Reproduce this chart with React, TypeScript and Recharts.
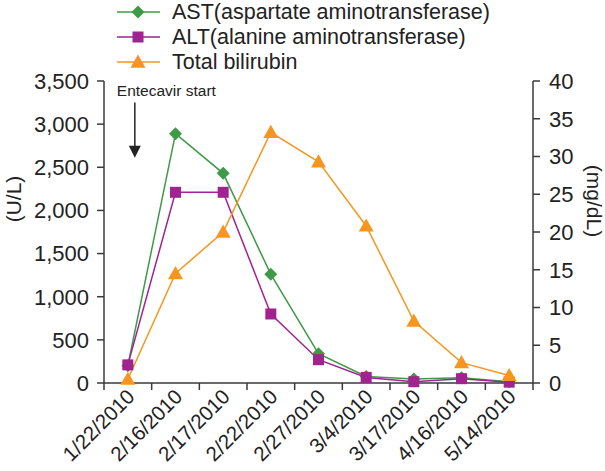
import React from 'react';
import { LineChart, Line, XAxis, YAxis, ReferenceLine } from 'recharts';

const dates = ['1/22/2010', '2/16/2010', '2/17/2010', '2/22/2010', '2/27/2010', '3/4/2010', '3/17/2010', '4/16/2010', '5/14/2010'];
const astValues = [200, 2890, 2430, 1260, 340, 75, 45, 60, 15];
const altValues = [210, 2210, 2210, 800, 270, 65, 15, 50, 10];
const bilirubinValues = [0.5, 14.5, 20.0, 33.2, 29.3, 20.8, 8.2, 2.7, 1.0];
const leftTicks = [0, 500, 1000, 1500, 2000, 2500, 3000, 3500];
const rightTicks = [0, 5, 10, 15, 20, 25, 30, 35, 40];

const FONT = '"Liberation Sans", Arial, sans-serif';
const AXIS = '#3a3a3a';
const GREEN = '#3f9a47';
const PURPLE = '#a0238f';
const ORANGE = '#f7961f';

const W = 605;
const H = 471;
const PLOT_LEFT = 104;
const PLOT_RIGHT = 533;
const PLOT_TOP = 81;
const PLOT_BOTTOM = 383;

const data = dates.map((date, i) => ({
    date,
    ast: astValues[i],
    alt: altValues[i],
    bili: bilirubinValues[i],
}));

// marker shapes
const Diamond = ({ cx, cy, fill }: any) => {
    if (cx == null || cy == null) return null;
    const r = 6.5;
    return <path d={`M${cx},${cy - r}L${cx + r},${cy}L${cx},${cy + r}L${cx - r},${cy}Z`} fill={fill} />;
};
const Square = ({ cx, cy, fill }: any) => {
    if (cx == null || cy == null) return null;
    const r = 5.5;
    return <rect x={cx - r} y={cy - r} width={r * 2} height={r * 2} fill={fill} />;
};
const Triangle = ({ cx, cy, fill }: any) => {
    if (cx == null || cy == null) return null;
    const r = 7.5;
    return <path d={`M${cx},${cy - r}L${cx + r},${cy + r * 0.75}L${cx - r},${cy + r * 0.75}Z`} fill={fill} />;
};

const series = [
    { key: 'ast', name: 'AST(aspartate aminotransferase)', color: GREEN, Shape: Diamond },
    { key: 'alt', name: 'ALT(alanine aminotransferase)', color: PURPLE, Shape: Square },
    { key: 'bili', name: 'Total bilirubin', color: ORANGE, Shape: Triangle },
];

const band = (PLOT_RIGHT - PLOT_LEFT) / dates.length;

const DateTick = ({ x, payload, index }: any) => {
    const left = x - band / 2;
    const ly = PLOT_BOTTOM;
    return (
        <g>
            <line x1={left} y1={ly} x2={left} y2={ly + 7} stroke={AXIS} strokeWidth={1.5} />
            {index === dates.length - 1 && (
                <line x1={x + band / 2} y1={ly} x2={x + band / 2} y2={ly + 7} stroke={AXIS} strokeWidth={1.5} />
            )}
            <text
                x={x + 8}
                y={ly + 15}
                textAnchor="end"
                fontSize={20.5}
                fontFamily={FONT}
                fill="#222"
                transform={`rotate(-45, ${x + 8}, ${ly + 15})`}
            >
                {payload.value}
            </text>
        </g>
    );
};

const ArrowShape = ({ x1, y1, y2 }: any) => {
    if (x1 == null) return null;
    const ax = x1 + 7;
    return (
        <g>
            <text x={ax - 18} y={y1 - 7} fontSize={15.5} fontFamily={FONT} fill="#222">Entecavir start</text>
            <line x1={ax} y1={y1} x2={ax} y2={y2 - 10} stroke="#222" strokeWidth={1.5} />
            <path d={`M${ax - 6},${y2 - 12}L${ax + 6},${y2 - 12}L${ax},${y2}Z`} fill="#222" />
        </g>
    );
};

export default function App() {
    return (
        <div style={{ position: 'absolute', left: 0, top: 0, width: W, height: H, background: '#fff' }}>
            <div style={{ position: 'absolute', left: 117, top: -1, fontFamily: FONT, fontSize: 21.5, color: '#222' }}>
                {series.map(s => (
                    <div key={s.key} style={{ display: 'flex', alignItems: 'center', height: 25 }}>
                        <svg width={44} height={16} style={{ marginRight: 11 }}>
                            <line x1={0} y1={8} x2={43} y2={8} stroke={s.color} strokeWidth={1.5} />
                            <s.Shape cx={21} cy={8} fill={s.color} />
                        </svg>
                        <span style={{ lineHeight: '18px' }}>{s.name}</span>
                    </div>
                ))}
            </div>
            <LineChart
                width={W}
                height={H}
                data={data}
                margin={{ top: PLOT_TOP, right: 0, bottom: 0, left: 0 }}
                style={{ position: 'absolute', left: 0, top: 0 }}
            >
                <XAxis
                    dataKey="date"
                    scale="band"
                    height={H - PLOT_BOTTOM}
                    tickLine={false}
                    axisLine={{ stroke: AXIS, strokeWidth: 1.5 }}
                    tick={<DateTick />}
                    interval={0}
                />
                <YAxis
                    yAxisId="left"
                    width={PLOT_LEFT}
                    domain={[0, 3500]}
                    ticks={leftTicks}
                    interval={0}
                    tickFormatter={(v: number) => v.toLocaleString('en-US')}
                    axisLine={{ stroke: AXIS, strokeWidth: 1.5 }}
                    tickLine={{ stroke: AXIS, strokeWidth: 1.5 }}
                    tickSize={7}
                    tickMargin={8}
                    tick={{ fill: '#222', fontSize: 22, fontFamily: FONT }}
                    label={{
                        content: () => {
                            const cx = 13;
                            const cy = 199;
                            return (
                                <text x={cx} y={cy} textAnchor="middle" dominantBaseline="central" fontSize={21} fontFamily={FONT} fill="#222" transform={`rotate(-90, ${cx}, ${cy})`}>
                                    (U/L)
                                </text>
                            );
                        },
                    }}
                />
                <YAxis
                    yAxisId="right"
                    orientation="right"
                    width={W - PLOT_RIGHT}
                    domain={[0, 40]}
                    ticks={rightTicks}
                    interval={0}
                    axisLine={{ stroke: AXIS, strokeWidth: 1.5 }}
                    tickLine={{ stroke: AXIS, strokeWidth: 1.5 }}
                    tickSize={7}
                    tickMargin={9}
                    tick={{ fill: '#222', fontSize: 22, fontFamily: FONT, textAnchor: 'start' }}
                    label={{
                        content: () => {
                            const cx = 594;
                            const cy = 201;
                            return (
                                <text x={cx} y={cy} textAnchor="middle" dominantBaseline="central" fontSize={21} fontFamily={FONT} fill="#222" transform={`rotate(90, ${cx}, ${cy})`}>
                                    (mg/dL)
                                </text>
                            );
                        },
                    }}
                />
                <ReferenceLine
                    yAxisId="left"
                    segment={[{ x: dates[0], y: 3250 }, { x: dates[0], y: 2610 }]}
                    shape={<ArrowShape />}
                    ifOverflow="visible"
                />
                {series.map(s => (
                    <Line
                        key={s.key}
                        yAxisId={s.key === 'bili' ? 'right' : 'left'}
                        dataKey={s.key}
                        name={s.name}
                        stroke={s.color}
                        strokeWidth={1.5}
                        dot={<s.Shape fill={s.color} />}
                        activeDot={false}
                        isAnimationActive={false}
                    />
                ))}
            </LineChart>
        </div>
    );
}
